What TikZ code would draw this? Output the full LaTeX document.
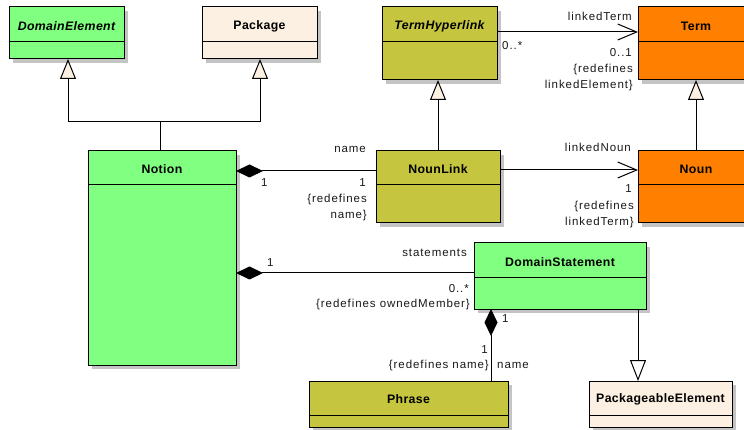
\documentclass[tikz,border=0pt]{standalone}
\usepackage{fontspec}
\setmainfont{Liberation Sans}
\newfontfamily\lblfont[LetterSpace=8]{Liberation Sans}
\newfontfamily\ttlfont[LetterSpace=3]{Liberation Sans}
\usetikzlibrary{arrows.meta,calc}
\definecolor{cgreen}{HTML}{80FF80}
\definecolor{ccream}{HTML}{FBF0E1}
\definecolor{colive}{HTML}{C5C540}
\definecolor{corange}{HTML}{FF8000}
\definecolor{shadowgray}{HTML}{C4C4C4}
\tikzset{
  cls/.style={draw=black, line width=1pt, anchor=north west, inner sep=0pt, outer sep=0pt},
  divline/.style={draw=black, line width=1pt},
  ttl/.style={font=\ttlfont\fontsize{12.3}{14}\selectfont\bfseries, inner sep=0pt},
  lbl/.style={font=\lblfont\fontsize{11.5}{13}\selectfont, inner sep=0pt, text=black!90},
  conn/.style={draw=black, line width=1pt},
  comp/.style={conn, {Diamond[length=27pt,width=13pt]}-},
  assoc/.style={conn, -{Straight Barb[length=19pt,width=16pt]}},
  gen/.style={conn, -{Triangle[length=20pt,width=16pt,fill=ccream]}},
  genw/.style={conn, -{Triangle[length=21pt,width=16pt,fill=white]}}
}
\newcommand\umlclass[8]{%
  \fill[shadowgray] ({#2+4},{#3+4}) rectangle ({#4+4},{#5+4});
  \node[cls, fill=#7, minimum width={(#4-#2)*1pt}, minimum height={(#5-#3)*1pt}] (#1) at (#2,#3) {};
  \draw[divline] (#1.west |- 0,#6) -- (#1.east |- 0,#6);
  \node[ttl] (#1-title) at ({(#2+#4)/2},{(#3+#6)/2+1.5}) {#8};
}
\begin{document}
\begin{tikzpicture}[x=1pt,y=-1pt]
\clip (0,0) rectangle (744,430);
\fill[white] (0,0) rectangle (744,430);

\umlclass{domel}{9}{7}{124}{59}{42}{cgreen}{\itshape DomainElement}
\umlclass{pkg}{202}{7}{317}{59}{42}{ccream}{Package}
\umlclass{thl}{382}{7}{497}{80}{42}{colive}{\itshape TermHyperlink}
\umlclass{term}{638}{7}{754}{80}{42}{corange}{Term}
\umlclass{notion}{88}{151}{236}{365}{185}{cgreen}{Notion}
\umlclass{nounlink}{376}{151}{500}{223}{185}{colive}{NounLink}
\umlclass{noun}{638}{151}{754}{223}{185}{corange}{Noun}
\umlclass{ds}{474}{243}{646}{309}{278}{cgreen}{DomainStatement}
\umlclass{phrase}{309}{381}{508}{427}{415}{colive}{Phrase}
\umlclass{pe}{589}{381}{732}{427}{415}{ccream}{PackageableElement}

% generalizations
\coordinate (j) at (160,122);
\draw[conn] (notion.north -| j) -- (j);
\draw[gen] (j) -| (domel.south -| 68,0);
\draw[gen] (j) -| (pkg.south -| 260,0);
\draw[gen] (nounlink.north) -- (nounlink.north |- thl.south);
\draw[gen] (noun.north) -- (term.south);
\draw[genw] (ds.south -| 638,0) -- (pe.north -| 638,0);

% associations
\draw[assoc] (thl.east |- 0,32) -- (term.west |- 0,32);
\draw[assoc] (nounlink.east |- 0,170) -- (noun.west |- 0,170);

% compositions
\draw[comp] (notion.east |- 0,171) -- (nounlink.west |- 0,171);
\draw[comp] (notion.east |- 0,273) -- (ds.west |- 0,273);
\draw[comp] (ds.south -| 491,0) -- (phrase.north -| 491,0);

% labels
\node[lbl, anchor=base east] (l1) at (632,21) {linkedTerm};
\node[lbl, anchor=base west] (l2) at (502,50) {0..*};
\node[lbl, anchor=base east] (l3) at (632,57) {0..1};
\node[lbl, anchor=base east] (l4) at (633,73) {\{redefines};
\node[lbl, anchor=base east] (l5) at (633,89) {linkedElement\}};

\node[lbl, anchor=base east] (l6) at (366,153) {name};
\node[lbl, anchor=base west] (l7) at (261,187) {1};
\node[lbl, anchor=base east] (l8) at (366,187) {1};
\node[lbl, anchor=base east] (l9) at (367,203) {\{redefines};
\node[lbl, anchor=base east] (l10) at (367,219) {name\}};

\node[lbl, anchor=base east] (l11) at (631,152) {linkedNoun};
\node[lbl, anchor=base east] (l12) at (632,193) {1};
\node[lbl, anchor=base east] (l13) at (634,210) {\{redefines};
\node[lbl, anchor=base east] (l14) at (634,226) {linkedTerm\}};

\node[lbl, anchor=base east] (l15) at (467,257) {statements};
\node[lbl, anchor=base west] (l16) at (267,267) {1};
\node[lbl, anchor=base east] (l17) at (469,292) {0..*};
\node[lbl, anchor=base east] (l18) at (470,307) {\{redefines ownedMember\}};

\node[lbl, anchor=base west] (l19) at (502,323) {1};
\node[lbl, anchor=base east] (l20) at (488,353) {1};
\node[lbl, anchor=base east] (l21) at (489,368) {\{redefines name\}};
\node[lbl, anchor=base west] (l22) at (497,368) {name};
\end{tikzpicture}
\end{document}
